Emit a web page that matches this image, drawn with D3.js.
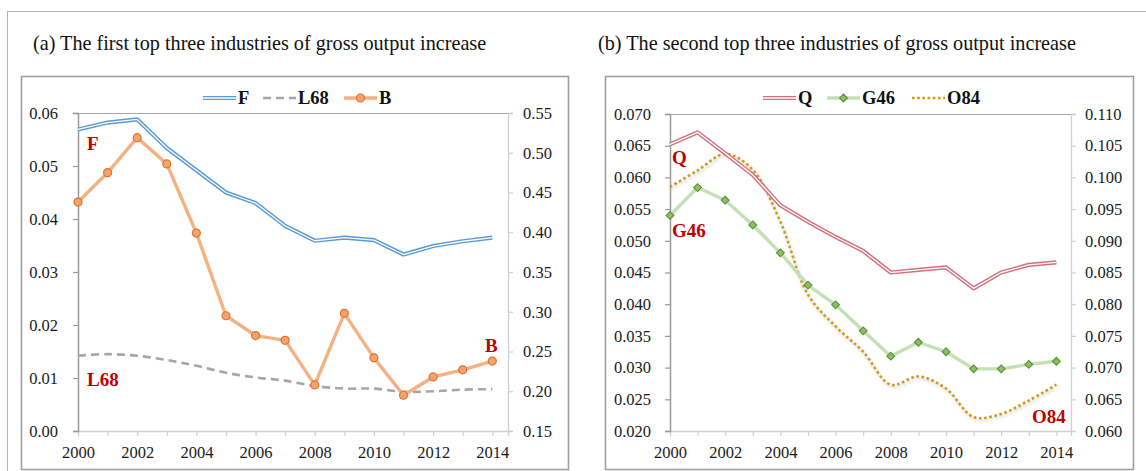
<!DOCTYPE html>
<html>
<head>
<meta charset="utf-8">
<script src="https://cdn.jsdelivr.net/npm/d3@7"></script>
<style>
  body { margin: 0; background: #fff; }
  svg { display: block; }
  text { font-family: "Liberation Serif", "Times New Roman", serif; }
</style>
</head>
<body>
<svg id="chart" width="1146" height="471"></svg>
<script>
// ---- data ----
const years = [2000, 2001, 2002, 2003, 2004, 2005, 2006, 2007, 2008, 2009, 2010, 2011, 2012, 2013, 2014];

// panel (a): F and L68 on the left axis, B on the right axis
const valuesF   = [0.0569, 0.0582, 0.0588, 0.0534, 0.0492, 0.0450, 0.0430, 0.0387, 0.0359, 0.0365, 0.0360, 0.0333, 0.0349, 0.0358, 0.0365];
const valuesL68 = [0.0142, 0.0145, 0.0142, 0.0134, 0.0123, 0.0110, 0.0101, 0.0095, 0.0085, 0.0080, 0.0080, 0.0074, 0.0075, 0.0078, 0.0079];
const valuesB   = [0.438, 0.475, 0.519, 0.486, 0.399, 0.295, 0.270, 0.264, 0.208, 0.298, 0.242, 0.195, 0.218, 0.227, 0.238];

// panel (b): Q and G46 on the left axis, O84 on the right axis
const valuesQ   = [0.0652, 0.0671, 0.0638, 0.0604, 0.0556, 0.0530, 0.0506, 0.0484, 0.0450, 0.0454, 0.0458, 0.0425, 0.0450, 0.0462, 0.0466];
const valuesG46 = [0.0540, 0.0584, 0.0564, 0.0525, 0.0481, 0.0430, 0.0399, 0.0358, 0.0318, 0.0340, 0.0325, 0.0298, 0.0298, 0.0305, 0.0310];
const valuesO84 = [0.0985, 0.1011, 0.1037, 0.1012, 0.0930, 0.0815, 0.0765, 0.0725, 0.0673, 0.0686, 0.0667, 0.0622, 0.0627, 0.0648, 0.0673];

// tick labels
const xTickLabels = [2000, 2002, 2004, 2006, 2008, 2010, 2012, 2014];
const ticksALeft  = [0.00, 0.01, 0.02, 0.03, 0.04, 0.05, 0.06];
const ticksARight = [0.15, 0.20, 0.25, 0.30, 0.35, 0.40, 0.45, 0.50, 0.55];
const ticksBLeft  = [0.020, 0.025, 0.030, 0.035, 0.040, 0.045, 0.050, 0.055, 0.060, 0.065, 0.070];
const ticksBRight = [0.060, 0.065, 0.070, 0.075, 0.080, 0.085, 0.090, 0.095, 0.100, 0.105, 0.110];

const titles = [
  "(a) The first top three industries of gross output increase",
  "(b) The second top three industries of gross output increase"
];

// ---- drawing ----
const svg = d3.select("#chart");
const defs = svg.append("defs");
defs.append("filter").attr("id", "soft-shadow")
  .attr("filterUnits", "userSpaceOnUse")
  .attr("x", 0).attr("y", 0).attr("width", 1146).attr("height", 471)
  .append("feDropShadow")
  .attr("dx", 1).attr("dy", 2).attr("stdDeviation", 1.5)
  .attr("flood-color", "#888").attr("flood-opacity", 0.45);

// outer frame
svg.append("rect")
  .attr("x", 7.5).attr("y", 11.5).attr("width", 1160).attr("height", 480)
  .attr("fill", "none").attr("stroke", "#b4b4b4").attr("stroke-width", 1);

const styles = {
  F:   { kind: "double", color: "#5b9bd5" },
  L68: { kind: "dash",   color: "#a6a6a6" },
  B:   { kind: "circle", color: "#f4b183", marker: "#f4a36c", markerStroke: "#d9742f" },
  Q:   { kind: "double", color: "#d2707d" },
  G46: { kind: "diamond", color: "#c5e0b4", marker: "#8cc063", markerStroke: "#5a8f38" },
  O84: { kind: "dot",    color: "#d09a12" }
};

const panels = [
  {
    title: titles[0], titleX: 33,
    frame: [21, 76, 568, 469],
    left: 78, right: 508, top: 113, bottom: 431,
    yLeft: [0, 0.06], yRight: [0.15, 0.55],
    ticksL: ticksALeft, ticksR: ticksARight, fmtL: ".2f", fmtR: ".2f",
    padL: 15, padR: 10,
    series: [
      { name: "F",   values: valuesF,   axis: "L", smooth: false },
      { name: "L68", values: valuesL68, axis: "L", smooth: true },
      { name: "B",   values: valuesB,   axis: "R", smooth: false }
    ],
    legend: [ { name: "F", x: 203 }, { name: "L68", x: 263 }, { name: "B", x: 344 } ],
    labels: [
      { text: "F",   x: 87,   y: 150 },
      { text: "L68", x: 87,   y: 386 },
      { text: "B",   x: 485,  y: 352 }
    ]
  },
  {
    title: titles[1], titleX: 598,
    frame: [605, 76, 1133, 469],
    left: 670, right: 1071, top: 114, bottom: 431,
    yLeft: [0.020, 0.070], yRight: [0.060, 0.110],
    ticksL: ticksBLeft, ticksR: ticksBRight, fmtL: ".3f", fmtR: ".3f",
    padL: 14, padR: 9,
    series: [
      { name: "O84", values: valuesO84, axis: "R", smooth: true },
      { name: "Q",   values: valuesQ,   axis: "L", smooth: false },
      { name: "G46", values: valuesG46, axis: "L", smooth: false }
    ],
    legend: [ { name: "Q", x: 763 }, { name: "G46", x: 827 }, { name: "O84", x: 912 } ],
    labels: [
      { text: "Q",   x: 672,  y: 164 },
      { text: "G46", x: 672,  y: 237 },
      { text: "O84", x: 1032, y: 423 }
    ]
  }
];

function drawLine(g, pts, st, smooth, shadow) {
  const line = d3.line().x(d => d[0]).y(d => d[1])
    .curve(smooth ? d3.curveCatmullRom.alpha(0.5) : d3.curveLinear);
  const path = line(pts);
  if (st.kind === "double") {
    g.append("path").attr("d", path).attr("fill", "none")
      .attr("stroke", st.color).attr("stroke-width", 4.2).attr("stroke-linejoin", "round");
    g.append("path").attr("d", path).attr("fill", "none")
      .attr("stroke", "#fff").attr("stroke-width", 1.3).attr("stroke-linejoin", "round");
  } else if (st.kind === "dash") {
    g.append("path").attr("d", path).attr("fill", "none")
      .attr("stroke", st.color).attr("stroke-width", 2.6).attr("stroke-dasharray", "8,5");
  } else if (st.kind === "dot") {
    const el = g.append("path").attr("d", path).attr("fill", "none")
      .attr("stroke", st.color).attr("stroke-width", 2.6).attr("stroke-dasharray", "2.6,2.6");
    if (shadow) el.attr("filter", "url(#soft-shadow)");
  } else {
    g.append("path").attr("d", path).attr("fill", "none")
      .attr("stroke", st.color).attr("stroke-width", 3.4).attr("stroke-linejoin", "round");
  }
}

function drawMarker(g, x, y, st) {
  if (st.kind === "circle") {
    g.append("circle").attr("cx", x).attr("cy", y).attr("r", 4)
      .attr("fill", st.marker).attr("stroke", st.markerStroke).attr("stroke-width", 1.2);
  } else if (st.kind === "diamond") {
    g.append("path").attr("d", d3.symbol(d3.symbolSquare, 30)())
      .attr("transform", `translate(${x},${y}) rotate(45)`)
      .attr("fill", st.marker).attr("stroke", st.markerStroke).attr("stroke-width", 1.1);
  }
}

panels.forEach(p => {
  const g = svg.append("g");

  // title
  g.append("text").attr("x", p.titleX).attr("y", 50)
    .attr("font-size", 20.2).attr("fill", "#111").text(p.title);

  // chart frame
  const [fx0, fy0, fx1, fy1] = p.frame;
  g.append("rect").attr("x", fx0 + 0.5).attr("y", fy0 + 0.5)
    .attr("width", fx1 - fx0).attr("height", fy1 - fy0)
    .attr("fill", "none").attr("stroke", "#a0a0a0").attr("stroke-width", 1.6);

  const x = d3.scaleLinear().domain([2000, 2014.53]).range([p.left, p.right]);
  const yL = d3.scaleLinear().domain(p.yLeft).range([p.bottom, p.top]);
  const yR = d3.scaleLinear().domain(p.yRight).range([p.bottom, p.top]);

  // plot-area top border
  g.append("line").attr("x1", p.left).attr("x2", p.right)
    .attr("y1", p.top + 0.5).attr("y2", p.top + 0.5)
    .attr("stroke", "#a6a6a6").attr("stroke-width", 1.2);

  // axes
  const axisX = d3.axisBottom(x).tickValues(years)
    .tickFormat(d => xTickLabels.includes(d) ? String(d) : "")
    .tickSize(5).tickPadding(10);
  const axL = d3.axisLeft(yL).tickValues(p.ticksL).tickFormat(d3.format(p.fmtL))
    .tickSize(5).tickPadding(p.padL);
  const axR = d3.axisRight(yR).tickValues(p.ticksR).tickFormat(d3.format(p.fmtR))
    .tickSize(5).tickPadding(p.padR);

  const gx = g.append("g").attr("transform", `translate(0,${p.bottom})`).call(axisX);
  const gl = g.append("g").attr("transform", `translate(${p.left},0)`).call(axL);
  const gr = g.append("g").attr("transform", `translate(${p.right},0)`).call(axR);

  [gx, gr].forEach(a => {
    a.select(".domain").attr("stroke", "#d0d0d0").attr("stroke-width", 1.3);
    a.selectAll(".tick line").attr("stroke", "#d0d0d0").attr("stroke-width", 1.2);
  });
  gl.select(".domain").attr("stroke", "#9a9a9a").attr("stroke-width", 1.5);
  gl.selectAll(".tick line").attr("stroke", "#9a9a9a").attr("stroke-width", 1.2);
  [gx, gl, gr].forEach(a => {
    a.selectAll(".tick text")
      .attr("font-family", "'Liberation Serif','Times New Roman',serif")
      .attr("font-size", 16.5).attr("fill", "#1a1a1a");
  });

  // series
  const sg = g.append("g");
  p.series.forEach(s => {
    const y = s.axis === "L" ? yL : yR;
    const pts = years.map((yr, i) => [x(yr), y(s.values[i])]);
    const st = styles[s.name];
    drawLine(sg, pts, st, s.smooth, true);
    pts.forEach(pt => drawMarker(sg, pt[0], pt[1], st));
  });

  // legend
  const lg = g.append("g");
  p.legend.forEach(item => {
    const st = styles[item.name];
    const ly = 98, len = 33;
    drawLine(lg, [[item.x, ly], [item.x + len, ly]], st, false, false);
    drawMarker(lg, item.x + len / 2, ly, st);
    lg.append("text").attr("x", item.x + len + 2).attr("y", 104)
      .attr("font-size", 18.5).attr("font-weight", "bold").attr("fill", "#111")
      .text(item.name);
  });

  // series labels
  p.labels.forEach(l => {
    g.append("text").attr("x", l.x).attr("y", l.y)
      .attr("font-size", 19).attr("font-weight", "bold").attr("fill", "#c00000")
      .text(l.text);
  });
});
</script>
</body>
</html>
